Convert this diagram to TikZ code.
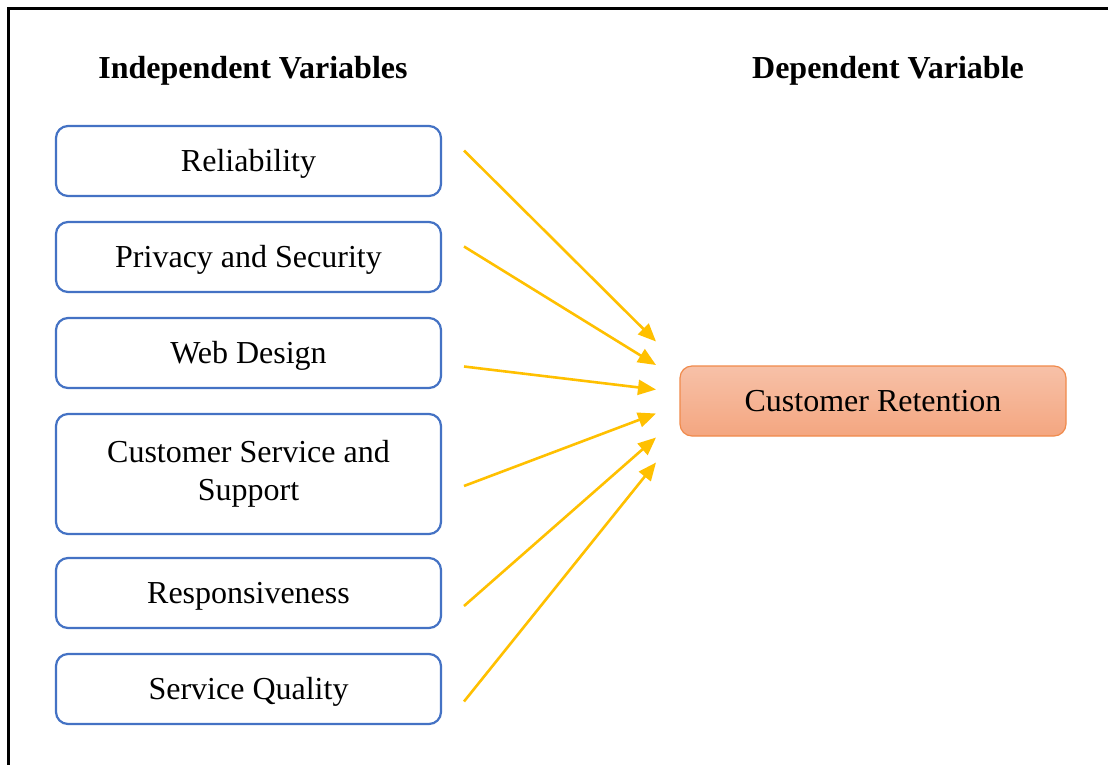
\documentclass[tikz,border=0pt]{standalone}
\usepackage{fontspec}
\setmainfont{Liberation Serif}
\usetikzlibrary{arrows.meta}
\definecolor{boxblue}{HTML}{4472C4}
\definecolor{arrowyellow}{HTML}{FFC000}
\definecolor{retborder}{HTML}{F08A4B}
\definecolor{rettop}{HTML}{F7C1A8}
\definecolor{retbottom}{HTML}{F4A680}
\tikzset{
  ivbox/.style={draw=boxblue, line width=2.2pt, rounded corners=12pt, minimum width=385pt, minimum height=70pt, outer sep=0pt, inner sep=0pt, align=center, font=\fontsize{32}{38}\selectfont},
  oneline/.style={text height=24pt, text depth=4pt},
  dvbox/.style={draw=retborder, line width=1.2pt, rounded corners=12pt, minimum width=386pt, minimum height=70pt, outer sep=0pt, top color=rettop, bottom color=retbottom, font=\fontsize{32}{38}\selectfont},
  heading/.style={font=\fontsize{32}{38}\selectfont\bfseries},
  link/.style={draw=arrowyellow, line width=2.6pt, -{Triangle[length=18pt,width=15pt]}}
}
\begin{document}
\begin{tikzpicture}[x=1pt,y=-1pt]
\clip (0,0) rectangle (1108,764);
\fill[white] (0,0) rectangle (1108,764);
\draw[line width=3pt] (8,8) rectangle (1130,790);
\node[heading] (h1) at (253,71) {Independent Variables};
\node[heading] (h2) at (888,71) {Dependent Variable};
\node[ivbox, oneline] (rel) at (248.5,161) {Reliability};
\node[ivbox, oneline] (priv) at (248.5,257) {Privacy and Security};
\node[ivbox, oneline] (web) at (248.5,353) {Web Design};
\node[ivbox, minimum height=120pt] (cs) at (248.5,474) {Customer Service and\\Support};
\node[ivbox, oneline] (resp) at (248.5,593) {Responsiveness};
\node[ivbox, oneline] (sq) at (248.5,689) {Service Quality};
\node[dvbox] (ret) at (873,401) {Customer Retention};
\coordinate (s1) at (464,150.5);
\coordinate (s2) at (464,246.5);
\coordinate (s3) at (464,366.5);
\coordinate (s4) at (464,486);
\coordinate (s5) at (464,606);
\coordinate (s6) at (464,701.5);
\coordinate (e1) at (656,341.5);
\coordinate (e2) at (656,365);
\coordinate (e3) at (656,389.5);
\coordinate (e4) at (656,413.5);
\coordinate (e5) at (656,437.5);
\coordinate (e6) at (656,462.5);
\draw[link] (s1) -- (e1);
\draw[link] (s2) -- (e2);
\draw[link] (s3) -- (e3);
\draw[link] (s4) -- (e4);
\draw[link] (s5) -- (e5);
\draw[link] (s6) -- (e6);
\end{tikzpicture}
\end{document}
